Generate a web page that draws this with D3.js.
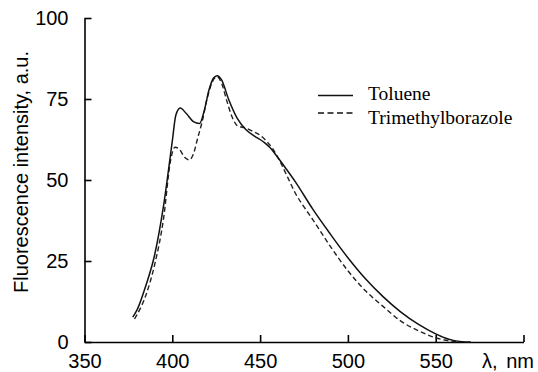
<!DOCTYPE html>
<html>
<head>
<meta charset="utf-8">
<script src="https://cdn.jsdelivr.net/npm/d3@7/dist/d3.min.js"></script>
<style>
  html, body { margin: 0; padding: 0; background: #fff; }
  svg { display: block; }
</style>
</head>
<body>
<svg id="chart" width="538" height="372"></svg>
<script>
// ---- Data ----
const xTicks = [350, 400, 450, 500, 550, 600];
const xTickLabels = ["350", "400", "450", "500", "550", ""];
const yTicks = [0, 25, 50, 75, 100];
const yTickLabels = ["0", "25", "50", "75", "100"];
const seriesNames = ["Toluene", "Trimethylborazole"];

const tolueneWavelength = [377.5, 380, 385, 390, 395, 400, 402, 404.5, 408, 412, 415.5, 418, 421, 423.5, 425.5, 428, 432, 437, 442, 447, 450, 453, 456, 460, 465, 470, 480, 490, 500, 510, 520, 530, 540, 550, 555, 560, 565, 570];
const tolueneIntensity  = [7.7, 10, 17.5, 27, 42, 62, 70, 72.2, 70.5, 68, 67.4, 71, 78, 81.5, 82.2, 81, 75, 69, 65.5, 63.5, 62.5, 61.3, 59.8, 57, 53.3, 49.5, 41, 33.3, 26, 19.5, 14, 9.3, 5.5, 2.5, 1.3, 0.5, 0.1, 0];

const tmbWavelength = [378.5, 380, 385, 390, 395, 399, 401.5, 404, 407, 409.7, 412, 414.5, 417, 420, 423, 425.5, 428, 431, 434, 437, 442, 446, 450, 454, 457, 462, 466, 470, 475, 480, 490, 500, 510, 520, 530, 540, 550, 555, 560, 564];
const tmbIntensity  = [7.1, 8.5, 14.5, 24, 38, 56, 60.1, 59.5, 57, 56.2, 58, 63, 68, 75.5, 80.5, 81.9, 80, 74.5, 69.5, 66.8, 66, 65, 63.8, 61.8, 59.8, 55, 50.5, 46, 41.7, 37.8, 29.5, 22, 15.8, 11, 6.5, 3.5, 1.3, 0.6, 0.2, 0];

// ---- Layout ----
const svg = d3.select("#chart");
const mLeft = 84.5, mRight = 523.5, mTop = 18, mBottom = 342;

const x = d3.scaleLinear().domain([350, 600]).range([mLeft, mRight]);
const y = d3.scaleLinear().domain([0, 100]).range([mBottom, mTop]);

const axisFont = "'Liberation Sans', Arial, sans-serif";
const legendFont = "'Liberation Serif', 'Times New Roman', serif";

// X axis (ticks pointing inward / up)
const xAxis = d3.axisBottom(x)
  .tickValues(xTicks)
  .tickSizeInner(-7)
  .tickSizeOuter(0)
  .tickPadding(12)
  .tickFormat((d, i) => xTickLabels[i]);

const gx = svg.append("g")
  .attr("transform", `translate(0,${mBottom})`)
  .call(xAxis);
gx.select(".domain").attr("stroke", "#000").attr("stroke-width", 1.6);
gx.selectAll(".tick line").attr("stroke", "#000").attr("stroke-width", 1.6);
gx.selectAll(".tick text")
  .attr("fill", "#000")
  .style("font-family", axisFont)
  .style("font-size", "20px");

// Y axis (ticks pointing inward / right)
const yAxis = d3.axisLeft(y)
  .tickValues(yTicks)
  .tickSizeInner(-7)
  .tickSizeOuter(0)
  .tickPadding(16)
  .tickFormat((d, i) => yTickLabels[i]);

const gy = svg.append("g")
  .attr("transform", `translate(${mLeft},0)`)
  .call(yAxis);
gy.select(".domain").attr("stroke", "#000").attr("stroke-width", 1.6);
gy.selectAll(".tick line").attr("stroke", "#000").attr("stroke-width", 1.6);
gy.selectAll(".tick text")
  .attr("fill", "#000")
  .style("font-family", axisFont)
  .style("font-size", "20px");

// Axis titles
svg.append("text")
  .attr("transform", `translate(27.5,${(mTop + mBottom) / 2 - 8}) rotate(-90)`)
  .attr("text-anchor", "middle")
  .style("font-family", axisFont)
  .style("font-size", "20px")
  .attr("fill", "#000")
  .text("Fluorescence intensity, a.u.");

svg.append("text")
  .attr("x", 534)
  .attr("y", 368)
  .attr("text-anchor", "end")
  .style("font-family", axisFont)
  .style("font-size", "20px")
  .style("word-spacing", "3px")
  .attr("fill", "#000")
  .text("λ, nm");

// ---- Lines ----
const line = d3.line()
  .x(d => x(d[0]))
  .y(d => y(d[1]))
  .curve(d3.curveMonotoneX);

const tolueneData = tolueneWavelength.map((w, i) => [w, tolueneIntensity[i]]);
const tmbData = tmbWavelength.map((w, i) => [w, tmbIntensity[i]]);

svg.append("path")
  .datum(tmbData)
  .attr("fill", "none")
  .attr("stroke", "#222")
  .attr("stroke-width", 1.4)
  .attr("stroke-dasharray", "5,3")
  .attr("d", line);

svg.append("path")
  .datum(tolueneData)
  .attr("fill", "none")
  .attr("stroke", "#111")
  .attr("stroke-width", 1.5)
  .attr("d", line);

// ---- Legend ----
const legend = svg.append("g");
const legendItems = [
  { name: seriesNames[0], dash: null, ly: 95.5, ty: 100 },
  { name: seriesNames[1], dash: "6,3.5", ly: 113, ty: 124 }
];
legendItems.forEach(it => {
  legend.append("line")
    .attr("x1", 318).attr("x2", 353)
    .attr("y1", it.ly).attr("y2", it.ly)
    .attr("stroke", "#111")
    .attr("stroke-width", 1.4)
    .attr("stroke-dasharray", it.dash);
  legend.append("text")
    .attr("x", 368)
    .attr("y", it.ty)
    .style("font-family", legendFont)
    .style("font-size", "19.5px")
    .attr("fill", "#000")
    .text(it.name);
});
</script>
</body>
</html>
